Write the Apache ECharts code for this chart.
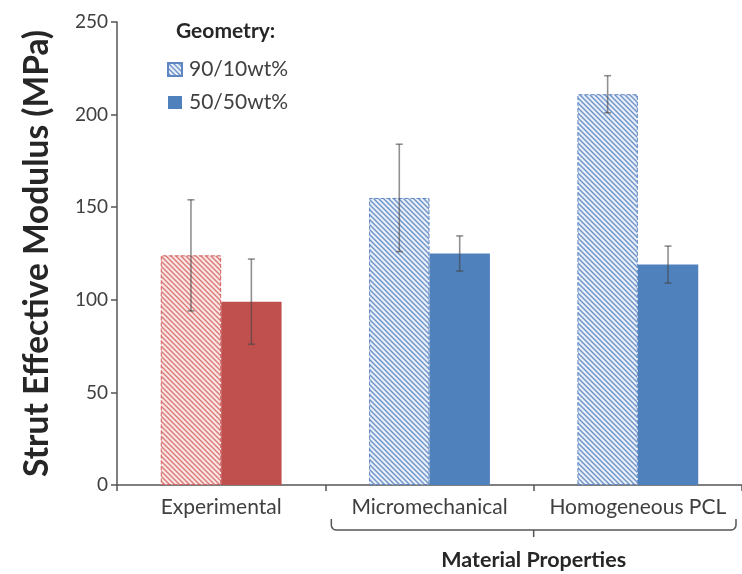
<!DOCTYPE html>
<html>
<head>
<meta charset="utf-8">
<script src="https://cdn.jsdelivr.net/npm/echarts@6/dist/echarts.min.js"></script>
<style>
  html, body { margin: 0; padding: 0; background: #ffffff; }
  #chart { width: 742px; height: 574px; }
</style>
</head>
<body>
<div id="chart"></div>
<script>
// Strut effective modulus by model, two geometries
const categories = ['Experimental', 'Micromechanical', 'Homogeneous PCL'];
const seriesNames = ['90/10wt%', '50/50wt%'];
const modulus9010 = [124, 155, 211];
const modulus5050 = [99, 125, 119];
const error9010 = [30, 29, 10];
const error5050 = [23, 9.5, 10];
const yTicks = { min: 0, max: 250, interval: 50 };

const FONT = 'Lato, "Open Sans", sans-serif';
const RED = '#C0504D';
const BLUE = '#4F81BD';

// Diagonal hatch fill (stripes running top-left to bottom-right)
function hatch(bg, fg) {
  const s = 5;
  const c = document.createElement('canvas');
  c.width = s; c.height = s;
  const g = c.getContext('2d');
  g.fillStyle = bg;
  g.fillRect(0, 0, s, s);
  g.strokeStyle = fg;
  g.lineWidth = 1.4;
  g.beginPath();
  for (let k = -1; k <= 1; k++) {
    g.moveTo(k * s - 1, -1);
    g.lineTo(k * s + s + 1, s + 1);
  }
  g.stroke();
  return { image: c, repeat: 'repeat' };
}

const redHatch = hatch('#fbe6e5', '#D87A77');
const blueHatch = hatch('#eaf0f9', '#6E93C9');

const BAR_CAT_GAP = 0.42;

const hatchedData = modulus9010.map((v, i) => ({
  value: v,
  itemStyle: i === 0
    ? { color: redHatch, borderColor: '#D0605D', borderWidth: 1, borderType: 'dashed' }
    : { color: blueHatch, borderColor: '#5F86C2', borderWidth: 1, borderType: 'dashed' }
}));
const solidData = modulus5050.map((v, i) => ({
  value: v,
  itemStyle: { color: i === 0 ? RED : BLUE }
}));

// [category index, low, high, series slot]
const errorData = [];
modulus9010.forEach((v, i) => errorData.push([i, v - error9010[i], v + error9010[i], 0]));
modulus5050.forEach((v, i) => errorData.push([i, v - error5050[i], v + error5050[i], 1]));

function renderError(params, api) {
  const idx = api.value(0);
  const lo = api.coord([idx, api.value(1)]);
  const hi = api.coord([idx, api.value(2)]);
  const catW = api.size([1, 0])[0];
  const barW = catW * (1 - BAR_CAT_GAP) / 2;
  const x = lo[0] + (api.value(3) === 0 ? -barW / 2 : barW / 2);
  const cap = 3.5;
  const style = { stroke: 'rgba(70,70,70,0.6)', lineWidth: 1.6, fill: null };
  return {
    type: 'group',
    children: [
      { type: 'line', shape: { x1: x, y1: hi[1], x2: x, y2: lo[1] }, style },
      { type: 'line', shape: { x1: x - cap, y1: hi[1], x2: x + cap, y2: hi[1] }, style },
      { type: 'line', shape: { x1: x - cap, y1: lo[1], x2: x + cap, y2: lo[1] }, style }
    ]
  };
}

const chart = echarts.init(document.getElementById('chart'), null, { renderer: 'canvas' });

chart.setOption({
  animation: false,
  backgroundColor: '#ffffff',
  grid: { left: 117, top: 22, bottom: 89, right: 0 },
  title: {
    text: 'Geometry:',
    left: 176, top: 21, padding: 0,
    textStyle: { fontFamily: FONT, fontSize: 21, fontWeight: 'bold', color: '#262626' }
  },
  legend: {
    orient: 'vertical',
    left: 167, top: 59, padding: 0,
    itemWidth: 14, itemHeight: 13, itemGap: 12,
    icon: 'rect',
    data: seriesNames,
    textStyle: { fontFamily: FONT, fontSize: 21, color: '#404040', padding: [0, 0, 0, 2] }
  },
  xAxis: {
    type: 'category',
    data: categories,
    axisLine: { lineStyle: { color: '#555555', width: 1.5 } },
    axisTick: { show: true, alignWithLabel: false, length: 6, lineStyle: { color: '#555555', width: 1.5 } },
    axisLabel: { interval: 0, fontFamily: FONT, fontSize: 21, color: '#404040', margin: 12 }
  },
  yAxis: {
    type: 'value',
    min: yTicks.min, max: yTicks.max, interval: yTicks.interval,
    name: 'Strut Effective Modulus (MPa)',
    nameLocation: 'middle',
    nameGap: 63,
    nameTextStyle: { fontFamily: FONT, fontSize: 33.5, fontWeight: 'bold', color: '#262626' },
    axisLine: { show: true, lineStyle: { color: '#555555', width: 1.5 } },
    axisTick: { show: true, length: 6, lineStyle: { color: '#555555', width: 1.5 } },
    splitLine: { show: false },
    axisLabel: { fontFamily: FONT, fontSize: 19, color: '#404040', margin: 9 }
  },
  series: [
    {
      name: seriesNames[0], type: 'bar',
      barGap: '0%', barCategoryGap: (BAR_CAT_GAP * 100) + '%',
      itemStyle: { color: blueHatch, borderColor: '#5F86C2', borderWidth: 1, borderType: 'dashed' },
      data: hatchedData
    },
    {
      name: seriesNames[1], type: 'bar',
      barGap: '0%', barCategoryGap: (BAR_CAT_GAP * 100) + '%',
      itemStyle: { color: BLUE },
      data: solidData
    },
    {
      type: 'custom',
      renderItem: renderError,
      data: errorData,
      z: 10,
      silent: true
    }
  ]
});

// Bracket grouping the two model-based categories, placed from axis positions
const px = (c) => chart.convertToPixel({ xAxisIndex: 0 }, c);
const xMid01 = (px(categories[0]) + px(categories[1])) / 2;
const xMid12 = (px(categories[1]) + px(categories[2])) / 2;
const bL = xMid01 + 6;
const bR = Math.min(xMid12 + (xMid12 - bL), 739);
const bY = 530;
const r = 5;
function corner(cx, cy, a0, a1) {
  const pts = [];
  for (let k = 0; k <= 6; k++) {
    const a = a0 + (a1 - a0) * k / 6;
    pts.push([cx + r * Math.cos(a), cy + r * Math.sin(a)]);
  }
  return pts;
}
const bracketPts = [[bL, bY - 11]]
  .concat(corner(bL + r, bY - r, Math.PI, Math.PI / 2))
  .concat(corner(bR - r, bY - r, Math.PI / 2, 0))
  .concat([[bR, bY - 11]]);

chart.setOption({
  graphic: [
    {
      type: 'polyline',
      shape: { points: bracketPts },
      style: { stroke: '#555555', lineWidth: 1.5, fill: null }
    },
    {
      type: 'line',
      shape: { x1: xMid12, y1: bY, x2: xMid12, y2: bY + 7 },
      style: { stroke: '#555555', lineWidth: 1.5 }
    },
    {
      type: 'text',
      x: xMid12, y: 560,
      style: {
        text: 'Material Properties',
        fontFamily: FONT, fontSize: 21.5, fontWeight: 'bold', fill: '#262626',
        align: 'center', verticalAlign: 'middle'
      }
    }
  ]
});
</script>
</body>
</html>
